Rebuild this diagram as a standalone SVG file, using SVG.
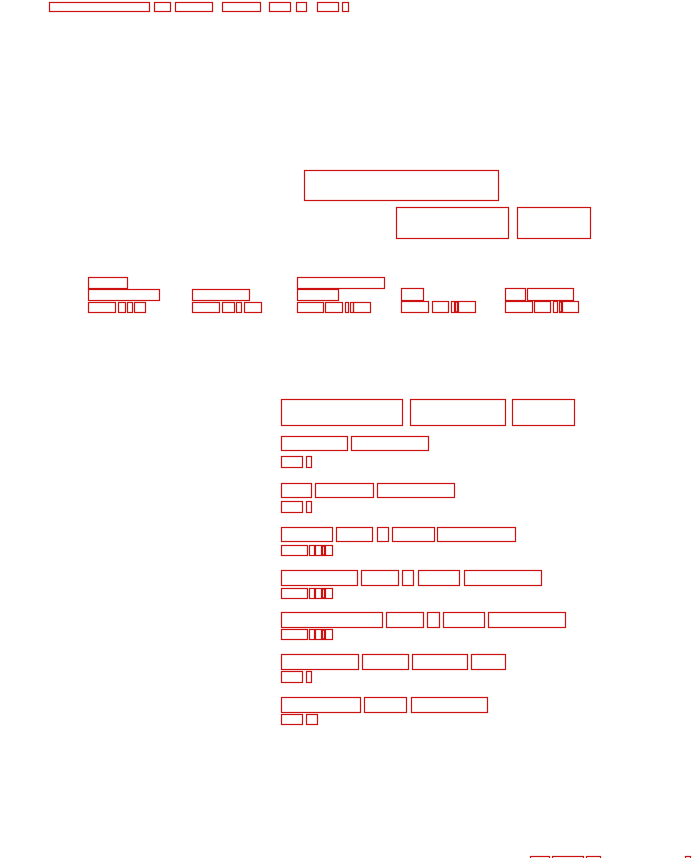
<svg xmlns="http://www.w3.org/2000/svg" width="696" height="858" viewBox="0 0 696 858">
<style>
rect{fill:none;stroke:#cc1111;stroke-width:1.2}
</style>
<rect x="0" y="0" width="696" height="858" style="fill:#ffffff;stroke:none"/>
<g id="top-line">
<rect x="49.5" y="2.5" width="100" height="9"/>
<rect x="154.5" y="2.5" width="16" height="9"/>
<rect x="175.5" y="2.5" width="37" height="9"/>
<rect x="222.5" y="2.5" width="38" height="9"/>
<rect x="269.5" y="2.5" width="21" height="9"/>
<rect x="296.5" y="2.5" width="10" height="9"/>
<rect x="317.5" y="2.5" width="21" height="9"/>
<rect x="342.5" y="2.5" width="6" height="9"/>
</g>
<g id="header">
<rect x="304.5" y="170.5" width="194" height="30"/>
<rect x="396.5" y="207.5" width="112" height="31"/>
<rect x="517.5" y="207.5" width="73" height="31"/>
</g>
<g id="col1">
<rect x="88.5" y="277.5" width="39" height="11"/>
<rect x="88.5" y="289.5" width="71" height="11"/>
<rect x="88.5" y="302.5" width="27" height="10"/>
<rect x="118.5" y="302.5" width="7" height="10"/>
<rect x="127.5" y="302.5" width="5" height="10"/>
<rect x="134.5" y="302.5" width="11" height="10"/>
</g>
<g id="col2">
<rect x="192.5" y="289.5" width="57" height="11"/>
<rect x="192.5" y="302.5" width="27" height="10"/>
<rect x="222.5" y="302.5" width="12" height="10"/>
<rect x="236.5" y="302.5" width="5" height="10"/>
<rect x="244.5" y="302.5" width="17" height="10"/>
</g>
<g id="col3">
<rect x="297.5" y="277.5" width="87" height="11"/>
<rect x="297.5" y="289.5" width="41" height="11"/>
<rect x="297.5" y="302.5" width="26" height="10"/>
<rect x="325.5" y="302.5" width="17" height="10"/>
<rect x="345.5" y="302.5" width="3" height="10"/>
<rect x="350.5" y="302.5" width="3" height="10"/>
<rect x="353.5" y="302.5" width="17" height="10"/>
</g>
<g id="col4">
<rect x="401.5" y="288.5" width="22" height="12"/>
<rect x="401.5" y="301.5" width="27" height="11"/>
<rect x="432.5" y="301.5" width="16" height="11"/>
<rect x="451.5" y="301.5" width="3" height="11"/>
<rect x="455.5" y="301.5" width="2" height="11"/>
<rect x="458.5" y="301.5" width="17" height="11"/>
</g>
<g id="col5">
<rect x="505.5" y="288.5" width="20" height="12"/>
<rect x="527.5" y="288.5" width="46" height="12"/>
<rect x="505.5" y="301.5" width="27" height="11"/>
<rect x="534.5" y="301.5" width="16" height="11"/>
<rect x="553.5" y="301.5" width="4" height="11"/>
<rect x="559.5" y="301.5" width="2" height="11"/>
<rect x="562.5" y="301.5" width="16" height="11"/>
</g>
<g id="list-header">
<rect x="281.5" y="399.5" width="121" height="26"/>
<rect x="410.5" y="399.5" width="95" height="26"/>
<rect x="512.5" y="399.5" width="62" height="26"/>
</g>
<g id="item1">
<rect x="281.5" y="436.5" width="66" height="14"/>
<rect x="351.5" y="436.5" width="77" height="14"/>
<rect x="281.5" y="456.5" width="21" height="11"/>
<rect x="306.5" y="456.5" width="5" height="11"/>
</g>
<g id="item2">
<rect x="281.5" y="483.5" width="30" height="14"/>
<rect x="315.5" y="483.5" width="58" height="14"/>
<rect x="377.5" y="483.5" width="77" height="14"/>
<rect x="281.5" y="501.5" width="21" height="11"/>
<rect x="306.5" y="501.5" width="5" height="11"/>
</g>
<g id="item3">
<rect x="281.5" y="527.5" width="51" height="14"/>
<rect x="336.5" y="527.5" width="36" height="14"/>
<rect x="377.5" y="527.5" width="11" height="14"/>
<rect x="392.5" y="527.5" width="42" height="14"/>
<rect x="437.5" y="527.5" width="78" height="14"/>
<rect x="281.5" y="545.5" width="26" height="10"/>
<rect x="309.5" y="545.5" width="5" height="10"/>
<rect x="315.5" y="545.5" width="6" height="10"/>
<rect x="322.5" y="545.5" width="2" height="10"/>
<rect x="325.5" y="545.5" width="7" height="10"/>
</g>
<g id="item4">
<rect x="281.5" y="570.5" width="76" height="15"/>
<rect x="361.5" y="570.5" width="37" height="15"/>
<rect x="402.5" y="570.5" width="11" height="15"/>
<rect x="418.5" y="570.5" width="41" height="15"/>
<rect x="464.5" y="570.5" width="77" height="15"/>
<rect x="281.5" y="588.5" width="26" height="10"/>
<rect x="309.5" y="588.5" width="5" height="10"/>
<rect x="315.5" y="588.5" width="6" height="10"/>
<rect x="322.5" y="588.5" width="2" height="10"/>
<rect x="325.5" y="588.5" width="7" height="10"/>
</g>
<g id="item5">
<rect x="281.5" y="612.5" width="101" height="15"/>
<rect x="386.5" y="612.5" width="37" height="15"/>
<rect x="427.5" y="612.5" width="12" height="15"/>
<rect x="443.5" y="612.5" width="41" height="15"/>
<rect x="488.5" y="612.5" width="77" height="15"/>
<rect x="281.5" y="629.5" width="26" height="10"/>
<rect x="309.5" y="629.5" width="5" height="10"/>
<rect x="315.5" y="629.5" width="6" height="10"/>
<rect x="322.5" y="629.5" width="2" height="10"/>
<rect x="325.5" y="629.5" width="7" height="10"/>
</g>
<g id="item6">
<rect x="281.5" y="654.5" width="77" height="15"/>
<rect x="362.5" y="654.5" width="46" height="15"/>
<rect x="412.5" y="654.5" width="55" height="15"/>
<rect x="471.5" y="654.5" width="34" height="15"/>
<rect x="281.5" y="671.5" width="21" height="11"/>
<rect x="306.5" y="671.5" width="5" height="11"/>
</g>
<g id="item7">
<rect x="281.5" y="697.5" width="79" height="15"/>
<rect x="364.5" y="697.5" width="42" height="15"/>
<rect x="411.5" y="697.5" width="76" height="15"/>
<rect x="281.5" y="714.5" width="21" height="10"/>
<rect x="306.5" y="714.5" width="11" height="10"/>
</g>
<g id="footer">
<rect x="530.5" y="856.5" width="19" height="10"/>
<rect x="552.5" y="856.5" width="31" height="10"/>
<rect x="586.5" y="856.5" width="14" height="10"/>
<rect x="685.5" y="856.5" width="5" height="10"/>
</g>
</svg>
